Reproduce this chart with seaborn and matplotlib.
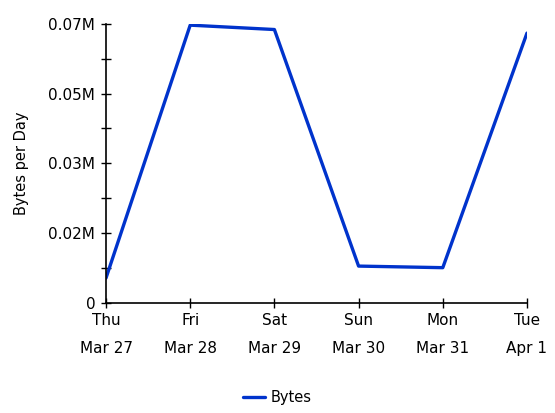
import matplotlib
matplotlib.use('Agg')
import matplotlib.pyplot as plt
import seaborn as sns
import pandas as pd

days = ['Thu', 'Fri', 'Sat', 'Sun', 'Mon', 'Tue']
dates = ['Mar 27', 'Mar 28', 'Mar 29', 'Mar 30', 'Mar 31', 'Apr 1']
bytes_per_day = [0.0062, 0.0697, 0.0686, 0.0092, 0.0088, 0.0677]  # millions
y_ticks = [0, 0.0175, 0.035, 0.0525, 0.07]
y_labels = ['0', '0.02M', '0.03M', '0.05M', '0.07M']

sns.set_style('white')
plt.rcParams['font.family'] = ['DejaVu Sans']
plt.rcParams['text.color'] = 'black'

df = pd.DataFrame({'pos': range(len(days)), 'value': bytes_per_day, 'series': 'Bytes'})

fig = plt.figure(figsize=(5.55, 4.13), dpi=100)
ax = fig.add_axes([0.191, 0.267, 0.7585, 0.675])

sns.lineplot(data=df, x='pos', y='value', hue='series', palette=['#0033cc'],
             linewidth=2.4, ax=ax, legend=False)

ax.set_xlim(0, len(days) - 1)
ax.set_ylim(0, 0.07)
ax.set_xticks(range(len(days)))
ax.set_xticklabels([f'{d}\n{m}' for d, m in zip(days, dates)], linespacing=2.05)
ax.set_yticks(y_ticks)
ax.set_yticklabels(y_labels)
ax.set_yticks([v + 0.00875 for v in y_ticks[:-1]], minor=True)

for s in ['top', 'right']:
    ax.spines[s].set_visible(False)
for s in ['left', 'bottom']:
    ax.spines[s].set_color('black')
    ax.spines[s].set_linewidth(1.2)

ax.tick_params(axis='both', which='both', direction='inout', length=7.5, width=1,
               color='black', labelsize=11, labelcolor='black', left=True, bottom=True)
ax.tick_params(axis='y', pad=4)
ax.tick_params(axis='x', pad=4)
ax.set_xlabel('')
ax.set_ylabel('Bytes per Day', fontsize=10.5, labelpad=14, color='black')

handle = plt.Line2D([], [], color='#0033cc', linewidth=2.4)
leg = fig.legend([handle], ['Bytes'], loc='center', bbox_to_anchor=(0.5, 0.038),
                 frameon=False, fontsize=10.5, handlelength=1.5, handletextpad=0.4)
for t in leg.get_texts():
    t.set_color('black')

fig.savefig('out.png', dpi=100)
